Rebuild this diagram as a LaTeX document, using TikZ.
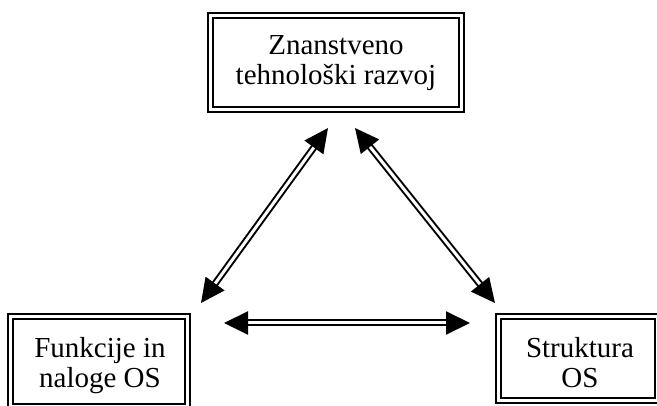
\documentclass[tikz,border=0pt]{standalone}
\usepackage{fontspec}
\setmainfont{Liberation Serif}
\usetikzlibrary{arrows.meta}
\tikzset{
  dbox/.style={draw, line width=2pt, double, double distance=3pt, inner sep=0pt},
  lbl/.style={align=center, inner sep=0pt, font=\fontsize{29}{30}\selectfont},
  dblarrow/.style={draw, line width=2pt, double, double distance=3pt,
    {Triangle[length=24pt,width=23pt]}-{Triangle[length=24pt,width=23pt]}}
}
\begin{document}
\begin{tikzpicture}[x=1pt,y=-1pt]
  \clip (0,0) rectangle (657,406);
  \fill[white] (0,0) rectangle (657,406);

  % framed boxes
  \node[dbox, minimum width=251pt, minimum height=94pt] (razvoj) at (336,62.5) {};
  \node[dbox, minimum width=176.5pt, minimum height=90pt] (funkcije) at (98.75,361.5) {};
  \node[dbox, minimum width=159pt, minimum height=84pt] (struktura) at (578,358.5) {};

  % box texts
  \node[lbl] (razvojtxt) at (336,63.5) {Znanstveno\\tehnološki razvoj};
  \node[lbl] (funkcijetxt) at (100,365.2) {Funkcije in\\naloge OS};
  \node[lbl] (strukturatxt) at (580,362.3) {Struktura\\OS};

  % arrow end points
  \coordinate (rl) at (328,128);
  \coordinate (rr) at (355,128);
  \coordinate (ft) at (201,303);
  \coordinate (fr) at (224,323);
  \coordinate (st) at (495,303);
  \coordinate (sl) at (470,323);

  % two-way links
  \draw[dblarrow] (rl) -- (ft);
  \draw[dblarrow] (rr) -- (st);
  \draw[dblarrow] (fr) -- (sl);
\end{tikzpicture}
\end{document}
